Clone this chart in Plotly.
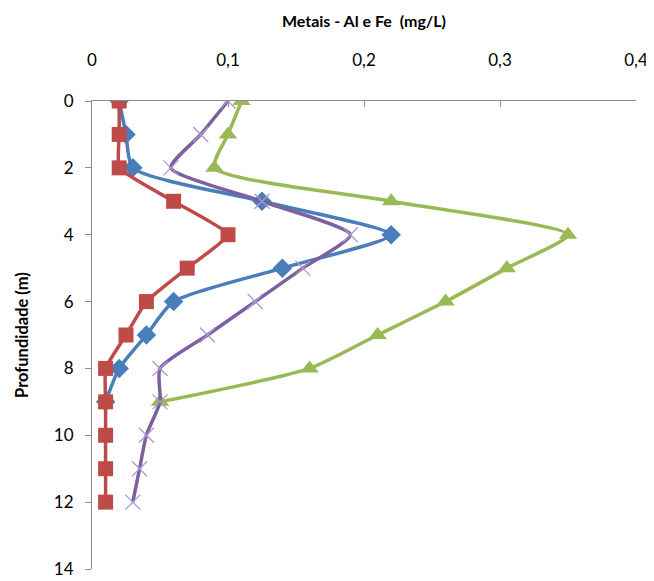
import plotly.graph_objects as go

depth_full = [0, 1, 2, 3, 4, 5, 6, 7, 8, 9, 10, 11, 12]
depth_10 = [0, 1, 2, 3, 4, 5, 6, 7, 8, 9]

blue_vals = [0.02, 0.025, 0.03, 0.125, 0.22, 0.14, 0.06, 0.04, 0.02, 0.01]
red_vals = [0.02, 0.02, 0.02, 0.06, 0.10, 0.07, 0.04, 0.025, 0.01, 0.01, 0.01, 0.01, 0.01]
green_vals = [0.11, 0.10, 0.09, 0.22, 0.35, 0.305, 0.26, 0.21, 0.16, 0.05]
purple_vals = [0.10, 0.08, 0.058, 0.125, 0.19, 0.155, 0.12, 0.085, 0.05, 0.05, 0.04, 0.035, 0.03]

x_ticks = [0, 0.1, 0.2, 0.3, 0.4]
y_ticks = [0, 2, 4, 6, 8, 10, 12, 14]

font_family = "Lato, Open Sans, Arial"

fig = go.Figure()
fig.add_trace(go.Scatter(x=blue_vals, y=depth_10, mode="lines+markers",
                         line=dict(color="#4A7EBB", width=3.5, shape="spline", smoothing=0.6),
                         marker=dict(symbol="diamond", size=15, color="#4A7EBB")))
fig.add_trace(go.Scatter(x=red_vals, y=depth_full, mode="lines+markers",
                         line=dict(color="#BE4B48", width=3.5, shape="spline", smoothing=0.4),
                         marker=dict(symbol="square", size=15, color="#BE4B48")))
fig.add_trace(go.Scatter(x=green_vals, y=depth_10, mode="lines+markers",
                         line=dict(color="#98B954", width=3.5, shape="spline", smoothing=0.6),
                         marker=dict(symbol="triangle-up", size=16, color="#98B954")))
fig.add_trace(go.Scatter(x=purple_vals, y=depth_full, mode="lines+markers",
                         line=dict(color="#7D60A0", width=3.5, shape="spline", smoothing=0.6),
                         marker=dict(symbol="x-thin", size=15, color="#A99BCB",
                                     line=dict(width=1.3, color="#A99BCB"))))

fig.update_layout(
    width=646, height=573,
    margin=dict(l=84, r=18, t=93, b=12, autoexpand=False),
    paper_bgcolor="white", plot_bgcolor="white",
    showlegend=False,
    separators=",.",
    font=dict(family=font_family, size=16, color="#000000"),
    title=dict(text="<b>Metais - Al e Fe  (mg/L)</b>", x=0.551, xanchor="center",
               xref="container", yref="container", y=0.976, yanchor="middle",
               pad=dict(t=0, b=0),
               font=dict(family=font_family, size=16)),
)
fig.update_xaxes(side="top", range=[0, 0.4], tickvals=x_ticks,
                 showgrid=False, zeroline=False, showline=True,
                 linecolor="#8C8C8C", linewidth=1, automargin=False,
                 ticks="inside", ticklen=6, tickcolor="#8C8C8C",
                 ticklabelstandoff=27,
                 tickfont=dict(size=17))
fig.update_yaxes(range=[14, 0], tickvals=y_ticks,
                 showgrid=False, zeroline=False, showline=True,
                 linecolor="#8C8C8C", linewidth=1, automargin=False,
                 ticks="outside", ticklen=6, tickcolor="#8C8C8C",
                 ticklabelstandoff=8,
                 tickfont=dict(size=17),
                 title=dict(text="<b>Profundidade (m)</b>", font=dict(size=16.5), standoff=21))

fig.write_html("out.html")
